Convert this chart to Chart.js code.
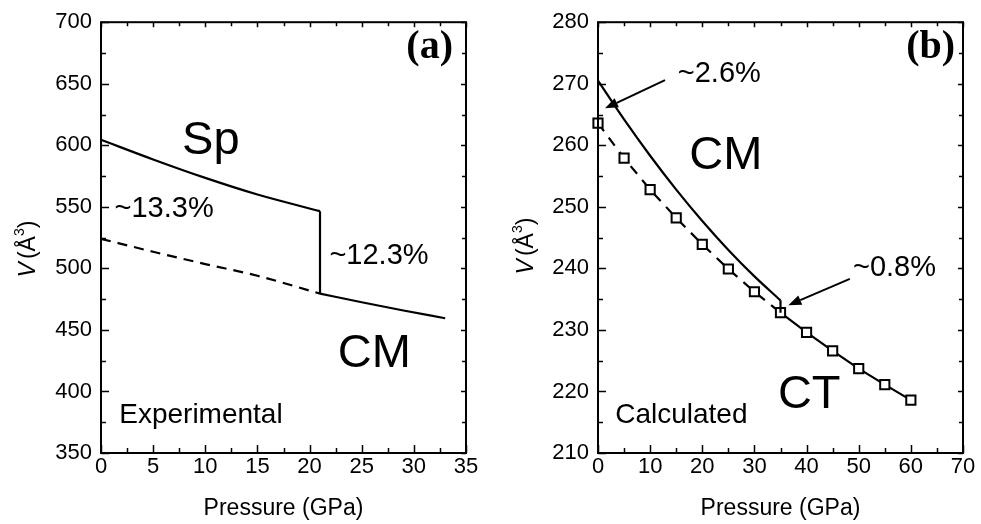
<!DOCTYPE html>
<html>
<head>
<meta charset="utf-8">
<title>Volume vs pressure</title>
<script src="https://cdn.jsdelivr.net/npm/chart.js@4/dist/chart.umd.min.js"></script>
<style>
  html, body { margin: 0; padding: 0; background: #fff; }
  #wrap { position: relative; width: 981px; height: 524px; overflow: hidden; }
  canvas { position: absolute; top: 0; }
  #chartA { left: 0; }
  #chartB { left: 490px; }
</style>
</head>
<body>
<div id="wrap">
  <canvas id="chartA" width="490" height="524"></canvas>
  <canvas id="chartB" width="491" height="524"></canvas>
</div>
<script>
// ---- Panel (a): experimental unit-cell volume (Å^3) vs pressure (GPa) ----
const spPressure = [0, 5, 10, 15, 21];
const spVolume = [604.5, 588.5, 573.5, 560, 546.5];
const spExtrapPressure = [0, 5, 10, 15, 21];
const spExtrapVolume = [524, 513.5, 503.5, 494, 479.5];
const transitionPressure = [21, 21];
const transitionVolume = [546.5, 479.5];
const cmPressureA = [21, 25, 29, 33];
const cmVolumeA = [479.5, 472.5, 465.8, 459.5];
const ticksA = { xMin: 0, xMax: 35, xStep: 5, yMin: 350, yMax: 700, yStep: 50 };

// ---- Panel (b): calculated volume (Å^3) vs pressure (GPa) ----
const calcPressure = [0, 5, 10, 15, 20, 25, 30, 35, 40, 45, 50, 55, 60];
const calcVolume = [263.6, 257.9, 252.8, 248.2, 243.9, 239.9, 236.2, 232.8, 229.6, 226.6, 223.7, 221.1, 218.6];
const cmPressureB = [0, 5, 10, 15, 20, 25, 30, 35];
const cmVolumeB = [270.5, 264.2, 258.3, 252.8, 247.7, 243.0, 238.7, 234.8];
const cmStepPressure = [35, 35];
const cmStepVolume = [234.8, 232.8];
const ticksB = { xMin: 0, xMax: 70, xStep: 10, yMin: 210, yMax: 280, yStep: 10 };

const SANS = '"Liberation Sans", Arial, Helvetica, sans-serif';
const SERIF = '"Liberation Serif", "Times New Roman", serif';

const pts = (xs, ys) => xs.map((x, i) => ({ x: x, y: ys[i] }));

// Closed frame with inward major/minor ticks on all four sides
const frameTicks = {
  id: 'frameTicks',
  afterDatasetsDraw(chart) {
    const { ctx, chartArea: a, scales: { x, y } } = chart;
    const mids = s => {
      const v = s.ticks.map(t => t.value), out = [];
      for (let i = 0; i < v.length - 1; i++) out.push((v[i] + v[i + 1]) / 2);
      return out;
    };
    ctx.save();
    ctx.strokeStyle = '#000';
    ctx.lineWidth = 1.5;
    ctx.beginPath();
    x.ticks.forEach(t => {
      const p = Math.round(x.getPixelForValue(t.value)) + 0.5;
      ctx.moveTo(p, a.bottom); ctx.lineTo(p, a.bottom - 8);
      ctx.moveTo(p, a.top); ctx.lineTo(p, a.top + 5);
    });
    mids(x).forEach(v => {
      const p = Math.round(x.getPixelForValue(v)) + 0.5;
      ctx.moveTo(p, a.bottom); ctx.lineTo(p, a.bottom - 5);
      ctx.moveTo(p, a.top); ctx.lineTo(p, a.top + 4);
    });
    y.ticks.forEach(t => {
      const p = Math.round(y.getPixelForValue(t.value)) + 0.5;
      ctx.moveTo(a.left, p); ctx.lineTo(a.left + 8, p);
      ctx.moveTo(a.right, p); ctx.lineTo(a.right - 5, p);
    });
    mids(y).forEach(v => {
      const p = Math.round(y.getPixelForValue(v)) + 0.5;
      ctx.moveTo(a.left, p); ctx.lineTo(a.left + 5, p);
      ctx.moveTo(a.right, p); ctx.lineTo(a.right - 4, p);
    });
    ctx.stroke();
    ctx.lineWidth = 2;
    ctx.strokeRect(a.left, a.top, a.right - a.left, a.bottom - a.top);
    ctx.restore();
  }
};

// Labels, arrows and the V (Å³) axis title
const notes = {
  id: 'notes',
  afterDatasetsDraw(chart, args, opts) {
    const { ctx, scales: { x, y } } = chart;
    ctx.save();
    ctx.fillStyle = '#000';
    ctx.strokeStyle = '#000';
    ctx.textBaseline = 'alphabetic';
    (opts.texts || []).forEach(t => {
      ctx.font = (t.bold ? 'bold ' : '') + t.size + 'px ' + (t.serif ? SERIF : SANS);
      ctx.textAlign = t.align || 'left';
      ctx.fillText(t.text, x.getPixelForValue(t.x), y.getPixelForValue(t.y));
    });
    (opts.arrows || []).forEach(ar => {
      const x0 = x.getPixelForValue(ar.from[0]), y0 = y.getPixelForValue(ar.from[1]);
      const x1 = x.getPixelForValue(ar.to[0]), y1 = y.getPixelForValue(ar.to[1]);
      const ang = Math.atan2(y1 - y0, x1 - x0);
      const hl = 13, hw = 5;
      const bx = x1 - hl * Math.cos(ang), by = y1 - hl * Math.sin(ang);
      ctx.lineWidth = 2;
      ctx.beginPath(); ctx.moveTo(x0, y0); ctx.lineTo(bx, by); ctx.stroke();
      ctx.beginPath();
      ctx.moveTo(x1, y1);
      ctx.lineTo(bx + hw * Math.sin(ang), by - hw * Math.cos(ang));
      ctx.lineTo(bx - hw * Math.sin(ang), by + hw * Math.cos(ang));
      ctx.closePath(); ctx.fill();
    });
    const yt = opts.yTitle;
    if (yt) {
      ctx.translate(yt.cx, yt.cy);
      ctx.rotate(-Math.PI / 2);
      ctx.textAlign = 'left';
      ctx.textBaseline = 'middle';
      const fV = 'italic 23px ' + SANS, fN = '23px ' + SANS, fS = '14px ' + SANS;
      ctx.font = fV; const wV = ctx.measureText('V').width;
      ctx.font = fN; const wA = ctx.measureText('(Å').width, wC = ctx.measureText(')').width;
      ctx.font = fS; const w3 = ctx.measureText('3').width;
      const gap = 3;
      let px = -(wV + gap + wA + w3 + wC) / 2;
      ctx.font = fV; ctx.fillText('V', px, 0); px += wV + gap;
      ctx.font = fN; ctx.fillText('(Å', px, 0); px += wA;
      ctx.font = fS; ctx.fillText('3', px, -9); px += w3;
      ctx.font = fN; ctx.fillText(')', px, 0);
    }
    ctx.restore();
  }
};

function axes(t, leftWidth) {
  return {
    x: {
      type: 'linear', min: t.xMin, max: t.xMax,
      ticks: { stepSize: t.xStep, color: '#000', font: { family: SANS, size: 22 }, padding: 1, maxRotation: 0 },
      grid: { display: false, drawTicks: false },
      border: { display: false },
      title: { display: true, text: 'Pressure (GPa)', color: '#000', font: { family: SANS, size: 23 }, padding: { top: 0, bottom: 2 } },
      afterFit: s => { s.height = 71; }
    },
    y: {
      type: 'linear', min: t.yMin, max: t.yMax,
      ticks: { stepSize: t.yStep, color: '#000', font: { family: SANS, size: 22 }, padding: 9 },
      grid: { display: false, drawTicks: false },
      border: { display: false },
      afterFit: s => { s.width = leftWidth; }
    }
  };
}

const solid = (data, extra) => Object.assign({
  data: data, showLine: true, borderColor: '#000', borderWidth: 2.2,
  pointRadius: 0, fill: false, clip: false
}, extra || {});

Chart.defaults.font.family = SANS;
Chart.defaults.color = '#000';

new Chart(document.getElementById('chartA'), {
  type: 'scatter',
  data: {
    datasets: [
      solid(pts(spPressure, spVolume), { cubicInterpolationMode: 'monotone' }),
      solid(pts(spExtrapPressure, spExtrapVolume), { cubicInterpolationMode: 'monotone', borderDash: [10, 7] }),
      solid(pts(transitionPressure, transitionVolume)),
      solid(pts(cmPressureA, cmVolumeA), { cubicInterpolationMode: 'monotone' })
    ]
  },
  options: {
    responsive: false, animation: false, devicePixelRatio: 1,
    layout: { padding: { top: 21, right: 24, left: 0, bottom: 0 } },
    scales: axes(ticksA, 101),
    plugins: {
      legend: { display: false }, tooltip: { enabled: false },
      notes: {
        texts: [
          { text: 'Sp', x: 7.77, y: 593.1, size: 47 },
          { text: 'CM', x: 22.7, y: 419.7, size: 47 },
          { text: '~13.3%', x: 1.3, y: 541.5, size: 29 },
          { text: '~12.3%', x: 21.9, y: 503.5, size: 29 },
          { text: 'Experimental', x: 1.75, y: 374.5, size: 28 },
          { text: '(a)', x: 33.75, y: 670.8, size: 40, bold: true, serif: true, align: 'right' }
        ],
        yTitle: { cx: 29, cy: 249 }
      }
    }
  },
  plugins: [frameTicks, notes]
});

new Chart(document.getElementById('chartB'), {
  type: 'scatter',
  data: {
    datasets: [
      solid(pts(cmPressureB, cmVolumeB), { cubicInterpolationMode: 'monotone' }),
      solid(pts(cmStepPressure, cmStepVolume)),
      solid(pts(calcPressure, calcVolume), {
        pointStyle: 'rect', pointRadius: 6.5, pointBorderWidth: 2,
        pointBackgroundColor: '#fff', pointBorderColor: '#000',
        segment: { borderDash: c => (c.p1.parsed.x <= 35 ? [10, 8] : undefined) }
      })
    ]
  },
  options: {
    responsive: false, animation: false, devicePixelRatio: 1,
    layout: { padding: { top: 21, right: 18, left: 0, bottom: 0 } },
    scales: axes(ticksB, 108),
    plugins: {
      legend: { display: false }, tooltip: { enabled: false },
      notes: {
        texts: [
          { text: '~2.6%', x: 15.3, y: 270.3, size: 29 },
          { text: 'CM', x: 17.5, y: 256.2, size: 47 },
          { text: '~0.8%', x: 48.9, y: 238.7, size: 29 },
          { text: 'CT', x: 34.5, y: 217.3, size: 47 },
          { text: 'Calculated', x: 3.3, y: 214.9, size: 28 },
          { text: '(b)', x: 68.5, y: 274.2, size: 40, bold: true, serif: true, align: 'right' }
        ],
        arrows: [
          { from: [12.85, 270.6], to: [1.34, 266.0] },
          { from: [48.3, 238.3], to: [36.5, 234.0] }
        ],
        yTitle: { cx: 37, cy: 246 }
      }
    }
  },
  plugins: [frameTicks, notes]
});
</script>
</body>
</html>
